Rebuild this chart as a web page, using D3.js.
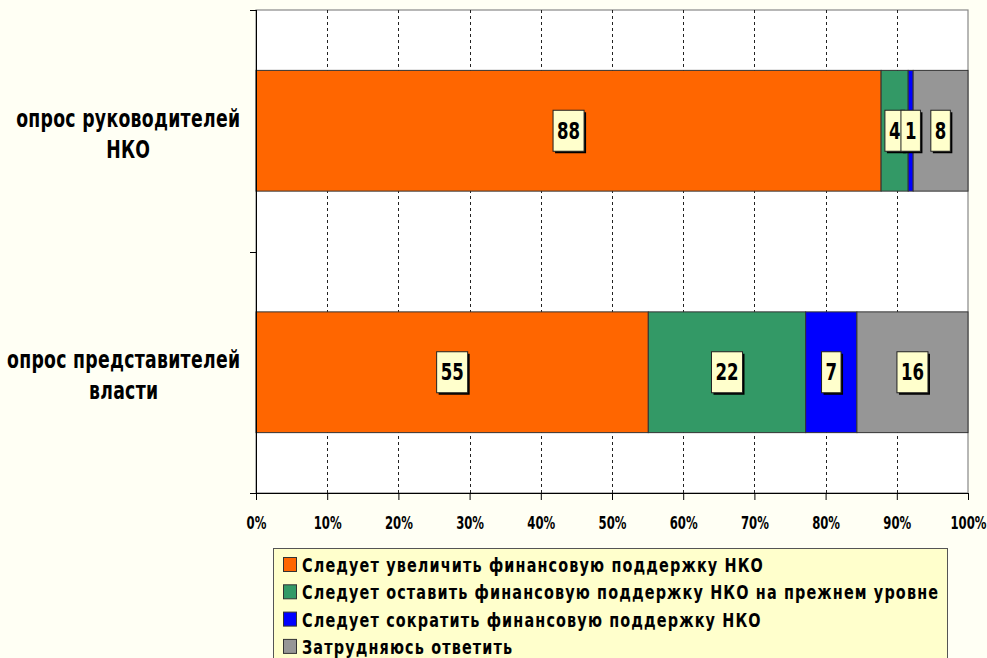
<!DOCTYPE html>
<html>
<head>
<meta charset="utf-8">
<script src="https://cdn.jsdelivr.net/npm/d3@7"></script>
<style>
  body { margin: 0; background: #fffff4; }
  svg { display: block; }
  text { font-family: "Liberation Sans Narrow", "DejaVu Sans Condensed", "Arial Narrow", "Liberation Sans", sans-serif; font-weight: bold; fill: #000; }
</style>
</head>
<body>
<div id="chart"></div>
<script>
// Chart data
var categories = ["leaders", "officials"];
var categoryLines = [["опрос руководителей", "НКО"], ["опрос представителей", "власти"]];
var seriesNames = [
  "Следует увеличить финансовую поддержку НКО",
  "Следует оставить финансовую поддержку НКО на прежнем уровне",
  "Следует сократить финансовую поддержку НКО",
  "Затрудняюсь ответить"
];
var seriesColors = ["#ff6600", "#339966", "#0000ff", "#969696"];
// shares of each answer (percent)
var leadersValues = [87.8, 3.8, 0.7, 7.7];
var officialsValues = [55.1, 22.1, 7.2, 15.6];
var tickValues = [0, 0.1, 0.2, 0.3, 0.4, 0.5, 0.6, 0.7, 0.8, 0.9, 1];

var svgWidth = 987;
var svgHeight = 658;
var plot = { left: 256, top: 10, right: 968, bottom: 493 };
var squeeze = 0.8; // narrow glyphs like the original font

var svg = d3.select("#chart")
  .append("svg")
  .attr("width", svgWidth)
  .attr("height", svgHeight);

// Build table for d3.stack
var table = categories.map(function(c, i) {
  var row = { category: c };
  var vals = i === 0 ? leadersValues : officialsValues;
  seriesNames.forEach(function(s, j) { row[s] = vals[j]; });
  return row;
});

var stacked = d3.stack()
  .keys(seriesNames)
  .offset(d3.stackOffsetExpand)(table);

// Scales
var xScale = d3.scaleLinear().domain([0, 1]).range([plot.left, plot.right]);
var yScale = d3.scaleBand()
  .domain(categories)
  .range([plot.top, plot.bottom])
  .paddingInner(0.5)
  .paddingOuter(0.25);

// squeezed text: a g scaled horizontally, returns the text selection
function narrowText(parent, x, y, str, size) {
  var g = parent.append("g")
    .attr("transform", "translate(" + x + "," + y + ") scale(" + squeeze + ",1)");
  return g.append("text").style("font-size", size + "px").text(str);
}
function placeNarrow(t, x, y) {
  d3.select(t.node().parentNode)
    .attr("transform", "translate(" + x + "," + y + ") scale(" + squeeze + ",1)");
}
function naturalWidth(t) { return t.node().getComputedTextLength(); }

// Plot area
svg.append("rect")
  .attr("x", plot.left)
  .attr("y", plot.top)
  .attr("width", plot.right - plot.left)
  .attr("height", plot.bottom - plot.top)
  .attr("fill", "#fff")
  .attr("stroke", "#888")
  .attr("stroke-width", 1.2);

// Dashed gridlines
svg.append("g")
  .selectAll("line")
  .data(tickValues.slice(1, -1))
  .join("line")
  .attr("x1", function(d) { return Math.round(xScale(d)) + 0.5; })
  .attr("x2", function(d) { return Math.round(xScale(d)) + 0.5; })
  .attr("y1", plot.top)
  .attr("y2", plot.bottom)
  .attr("stroke", "#222")
  .attr("stroke-dasharray", "3,3");

// Bars
var layers = svg.append("g")
  .selectAll("g")
  .data(stacked)
  .join("g")
  .attr("fill", function(d, i) { return seriesColors[i]; });

layers.selectAll("rect")
  .data(function(d) { return d; })
  .join("rect")
  .attr("x", function(d) { return xScale(d[0]); })
  .attr("y", function(d) { return yScale(d.data.category); })
  .attr("width", function(d) { return xScale(d[1]) - xScale(d[0]); })
  .attr("height", yScale.bandwidth())
  .attr("stroke", "#333")
  .attr("stroke-width", 1);

// Bottom axis
var bottomAxis = d3.axisBottom(xScale)
  .tickValues(tickValues)
  .tickFormat(d3.format(".0%"))
  .tickSizeInner(7)
  .tickSizeOuter(0)
  .tickPadding(16);

var xAxisG = svg.append("g")
  .attr("transform", "translate(0," + plot.bottom + ")")
  .call(bottomAxis);
xAxisG.attr("font-family", null).attr("font-size", null);
xAxisG.select(".domain").attr("stroke", "#000").attr("d", "M" + (plot.left - 6) + ",0.5H" + plot.right);
xAxisG.selectAll(".tick line").attr("stroke", "#000");
xAxisG.selectAll("text")
  .style("font-size", "18px")
  .attr("transform", "scale(0.72,1)");

// Left axis: line and ticks at category boundaries
var boundaries = categories.map(function(c) {
  return yScale(c) - yScale.step() * yScale.paddingInner() / 2;
});
boundaries.push(plot.bottom);
svg.append("line")
  .attr("x1", plot.left + 0.5).attr("x2", plot.left + 0.5)
  .attr("y1", plot.top).attr("y2", plot.bottom)
  .attr("stroke", "#000");
svg.append("g")
  .selectAll("line")
  .data(boundaries)
  .join("line")
  .attr("x1", plot.left - 6).attr("x2", plot.left)
  .attr("y1", function(d) { return Math.round(d) + 0.5; })
  .attr("y2", function(d) { return Math.round(d) + 0.5; })
  .attr("stroke", "#000");

// Category labels (two lines, right edge at 240)
var catRight = 240;
var catG = svg.append("g");
var catTexts = [];
categoryLines.forEach(function(lines, i) {
  lines.forEach(function(line, k) {
    catTexts.push({ t: narrowText(catG, 0, 0, line, 24), cat: i, line: k, n: line.length });
  });
});
// letter spacing so "опрос представителей" is about 233px wide
var ref = catTexts[2];
var catSpacing = (233 / squeeze - naturalWidth(ref.t)) / (ref.n - 1);
catTexts.forEach(function(o) { o.t.style("letter-spacing", catSpacing + "px"); });
categoryLines.forEach(function(lines, i) {
  var cy = yScale(categories[i]) + yScale.bandwidth() / 2;
  var items = catTexts.filter(function(o) { return o.cat === i; });
  var w0 = (naturalWidth(items[0].t) - catSpacing) * squeeze;
  var center = catRight - w0 / 2;
  items.forEach(function(o) {
    var w = (naturalWidth(o.t) - catSpacing) * squeeze;
    placeNarrow(o.t, center - w / 2, cy - 4 + o.line * 31);
  });
});

// Data labels
var labelG = svg.append("g");
stacked.forEach(function(layer) {
  layer.forEach(function(d) {
    var cx = (xScale(d[0]) + xScale(d[1])) / 2;
    var cy = yScale(d.data.category) + yScale.bandwidth() / 2;
    var value = d.data[layer.key];
    var g = labelG.append("g");
    var shadow = g.append("rect").attr("fill", "#000");
    var box = g.append("rect").attr("fill", "#ffffcc").attr("stroke", "#222").attr("stroke-width", 1);
    var t = narrowText(g, 0, 0, Math.round(value), 23);
    var tw = naturalWidth(t) * squeeze;
    placeNarrow(t, cx - tw / 2, cy + 8);
    var w = tw + 8;
    var h = 41;
    box.attr("x", cx - w / 2).attr("y", cy - h / 2).attr("width", w).attr("height", h);
    shadow.attr("x", cx - w / 2 + 2).attr("y", cy - h / 2 + 2).attr("width", w).attr("height", h);
  });
});

// Legend
var legend = svg.append("g");
legend.append("rect")
  .attr("x", 273.5)
  .attr("y", 548.5)
  .attr("width", 674)
  .attr("height", 130)
  .attr("fill", "#ffffcc")
  .attr("stroke", "#555");

var legendItems = legend.selectAll("g.item")
  .data(seriesNames)
  .join("g")
  .attr("class", "item")
  .attr("transform", function(d, i) { return "translate(283," + (557 + i * 27.3) + ")"; });

legendItems.append("rect")
  .attr("x", 0.5).attr("y", 0.5)
  .attr("width", 13).attr("height", 14)
  .attr("fill", function(d, i) { return seriesColors[i]; })
  .attr("stroke", "#333");

var legendTexts = [];
legendItems.each(function(d) {
  legendTexts.push(narrowText(d3.select(this), 19, 15, d, 20));
});
// letter spacing so the longest entry is about 636px wide
var legSpacing = (636 / squeeze - naturalWidth(legendTexts[1])) / (seriesNames[1].length - 1);
legendTexts.forEach(function(t) { t.style("letter-spacing", legSpacing + "px"); });
</script>
</body>
</html>
